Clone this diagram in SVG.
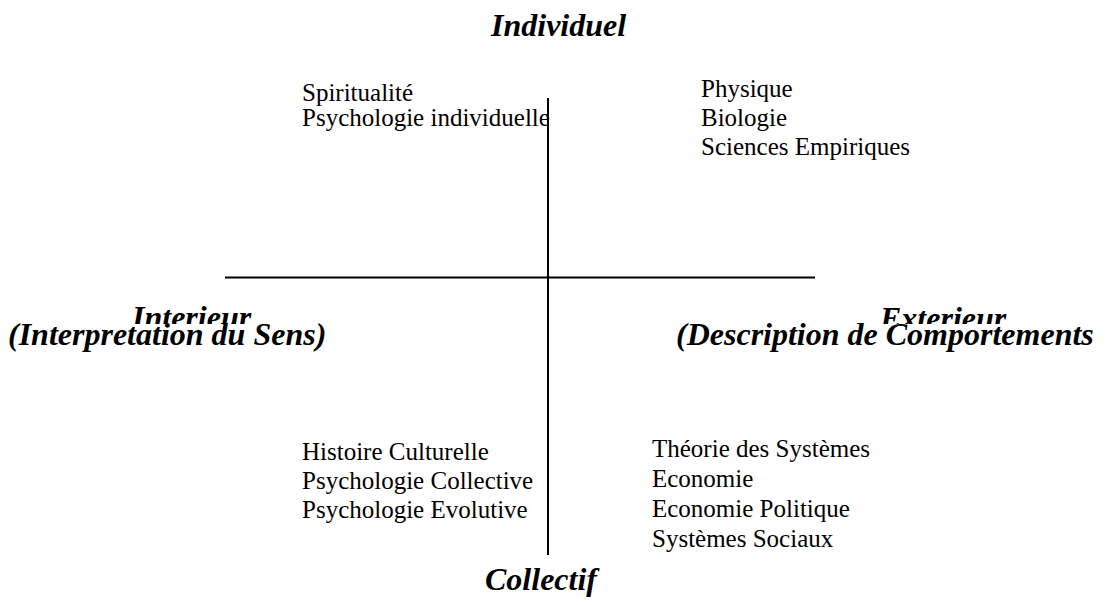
<svg xmlns="http://www.w3.org/2000/svg" width="1105" height="605" viewBox="0 0 1105 605">
  <style>
    .pole { font-family: "Liberation Serif", "Times New Roman", serif; font-size: 32px; font-weight: bold; font-style: italic; fill: #000; }
    .item { font-family: "Liberation Serif", "Times New Roman", serif; font-size: 25px; fill: #000; }
    .axis { stroke: #000; stroke-width: 2; fill: none; }
  </style>
  <defs>
    <!-- upper label lines are partly hidden by the line below them -->
    <clipPath id="upperCut">
      <rect x="0" y="0" width="1105" height="324"/>
    </clipPath>
  </defs>
  <rect width="1105" height="605" fill="#fff"/>

  <g id="individuel">
    <text class="pole" x="491" y="36">Individuel</text>
  </g>
  <g id="collectif">
    <text class="pole" x="485" y="590">Collectif</text>
  </g>
  <g id="interieur">
    <text class="pole" x="132" y="328" clip-path="url(#upperCut)">Interieur</text>
    <text class="pole" x="8" y="345">(Interpretation du Sens)</text>
  </g>
  <g id="exterieur">
    <text class="pole" x="880" y="329" clip-path="url(#upperCut)">Exterieur</text>
    <text class="pole" x="676" y="345">(Description de Comportements</text>
  </g>

  <g id="quadrant-upper-left">
    <text class="item" x="302" y="101">Spiritualité</text>
    <text class="item" x="302" y="126">Psychologie individuelle</text>
  </g>
  <g id="quadrant-upper-right">
    <text class="item" x="701" y="97">Physique</text>
    <text class="item" x="701" y="126">Biologie</text>
    <text class="item" x="701" y="155">Sciences Empiriques</text>
  </g>
  <g id="quadrant-lower-left">
    <text class="item" x="302" y="460">Histoire Culturelle</text>
    <text class="item" x="302" y="489">Psychologie Collective</text>
    <text class="item" x="302" y="518">Psychologie Evolutive</text>
  </g>
  <g id="quadrant-lower-right">
    <text class="item" x="652" y="457">Théorie des Systèmes</text>
    <text class="item" x="652" y="487">Economie</text>
    <text class="item" x="652" y="517">Economie Politique</text>
    <text class="item" x="652" y="547">Systèmes Sociaux</text>
  </g>

  <g id="connectors">
    <line class="axis" x1="548" y1="98" x2="548" y2="555"/>
    <line class="axis" x1="225" y1="277.5" x2="815" y2="277.5"/>
  </g>
</svg>
